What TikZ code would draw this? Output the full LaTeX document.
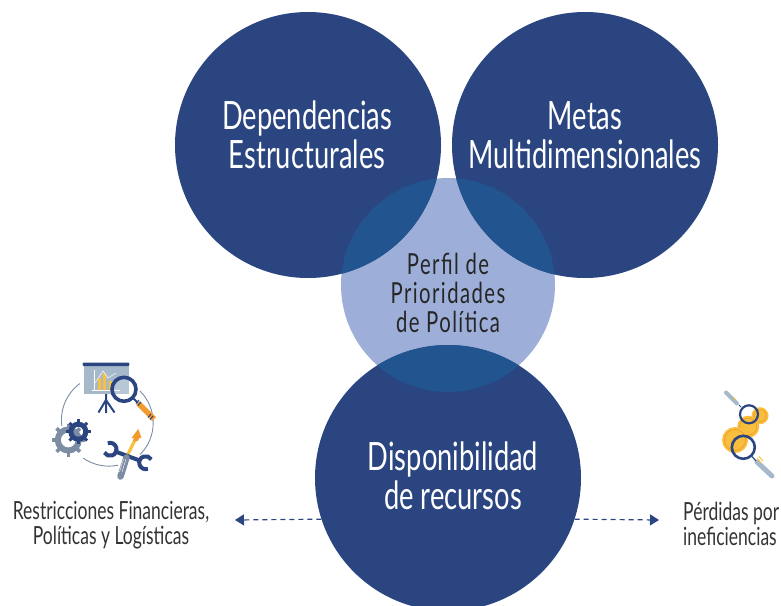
\documentclass[tikz,border=0pt]{standalone}
\usepackage{fontspec}
\setmainfont[FakeStretch=0.70]{Lato}
\newfontfamily\spaced[FakeStretch=0.70,LetterSpace=5]{Lato}
\usetikzlibrary{arrows.meta}
\definecolor{navy}{HTML}{2B4580}
\definecolor{lap}{HTML}{22558F}
\definecolor{lite}{HTML}{9DAFD9}
\definecolor{slate}{HTML}{7C8CA3}
\definecolor{board}{HTML}{A6B9CB}
\definecolor{amber}{HTML}{F9C03C}
\definecolor{coin}{HTML}{F8BE3E}
\definecolor{coinb}{HTML}{F19F2B}
\definecolor{orng}{HTML}{F39A2D}
\definecolor{txt}{HTML}{333333}
\tikzset{
  bigc/.style={circle,fill=navy,inner sep=0pt,minimum size=266pt},
  midc/.style={circle,fill=lite,inner sep=0pt,minimum size=214pt},
  bigt/.style={text=white,align=center,font=\fontsize{39}{39}\selectfont,inner sep=0pt},
  midt/.style={text=black!85,align=center,font=\spaced\fontsize{29}{29}\selectfont,inner sep=0pt},
  smallt/.style={text=txt,font=\fontsize{25}{25}\selectfont,inner sep=0pt},
  dashline/.style={navy,line width=1.2pt,dash pattern=on 5pt off 4pt,-{Triangle[length=9pt,width=11pt]}},
  ring/.style={slate,line width=0.9pt},
}
\newcommand{\gearshape}[6]{% x y r hole tooth colour
  \foreach \a in {0,45,...,315}{
    \fill[#6,rotate around={\a:(#1,#2)}] (#1-#5*0.6,#2-#3-#5) rectangle (#1+#5*0.6,#2-#3+1);
  }
  \draw[#6,line width=#3*1pt-#4*1pt] (#1,#2) circle ({(#3+#4)/2});
}
\begin{document}
\begin{tikzpicture}[x=1pt,y=-1pt]
\useasboundingbox (0,0) rectangle (781,605);
\clip (0,0) rectangle (781,605);
% circles
\node[midc] (mid) at (448,285) {};
\node[bigc] (tl) at (308,145) {};
\node[bigc] (tr) at (585,145) {};
\node[bigc] (bot) at (448,478) {};
\begin{scope}
  \clip (448,285) circle (107);
  \fill[lap] (308,145) circle (133);
  \fill[lap] (585,145) circle (133);
  \fill[lap] (448,478) circle (133);
\end{scope}
% texts
\node[bigt] (t1) at (307,135) {Dependencias\\Estructurales};
\node[bigt] (t2) at (585,135) {Metas\\Multidimensionales};
\node[midt] (t3) at (448,292.5) {Perfil de\\Prioridades\\de Política};
\node[bigt] (t4) at (453,476) {Disponibilidad\\de recursos};
\node[smallt,align=center] (t5) at (111,525.5) {Restricciones Financieras,\\Políticas y Logísticas};
\node[smallt,align=left,anchor=west] (t6) at (683,524) {Pérdidas por\\ineficiencias};
% connectors
\coordinate (la) at (235,520);
\coordinate (ra) at (659,520);
\draw[dashline] (bot.198.4) -- (la);
\draw[dashline] (bot.-18.4) -- (ra);
% left icon: ring arcs
\draw[ring] (80,383.5) arc[start angle=234,end angle=172,radius=45] ;
\draw[ring] (140,391) arc[start angle=-45,end angle=45,radius=45];
\draw[ring] (83,458) arc[start angle=125,end angle=78,radius=45];
% board
\fill[board] (84.3,365) rectangle (129,394);
\fill[navy,rounded corners=1pt] (82.7,362.5) rectangle (129.3,366);
\draw[white,line width=0.6pt] (94,370) -- (94,391) (92,390.5) -- (120,390.5);
\fill[amber] (98,378) rectangle (101,390) (103,373) rectangle (106,390) (109,381) rectangle (112,390);
\draw[white,line width=0.5pt] (95,383) -- (103,371) -- (108,378) -- (116,373);
\draw[navy,line width=2pt] (106,394) -- (106,413) (106,400) -- (98.5,412.5) (106,400) -- (114.5,412.5);
% magnifier
\draw[navy,line width=2pt] (132,397) -- (138,403);
\draw[orng,line width=5.5pt] (138,403) -- (154,419);
\draw[navy,line width=1pt] (139,400) -- (136,403.5) (141,402) -- (138,405.5) (151,414) -- (148,417.5) (153,416) -- (150,419.5);
\fill[white,opacity=0.2] (124,389.3) circle (11);
\draw[navy,line width=3.6pt] (124,389.3) circle (12);
% gears
\gearshape{68.3}{440}{13.5}{7.5}{3}{slate}
\gearshape{78.3}{431.7}{10}{5}{2.5}{navy}
% tools
\draw[amber,line width=3.2pt] (126.7,456.7) -- (136,438);
\fill[orng] (138.3,429) -- (131.5,438) -- (134,438) -- (133,441) -- (138,441) -- (139,438) -- (141.5,438) -- cycle;
\draw[navy,line width=4pt] (114,451) -- (141,461);
\draw[navy,line width=4pt] (110,449.3) ++(250:6.5) arc[start angle=250,end angle=510,radius=6.5];
\draw[navy,line width=4pt] (145.7,462.7) ++(70:6.5) arc[start angle=70,end angle=330,radius=6.5];
\draw[slate,line width=6.5pt,line cap=round] (120.5,476.5) -- (126.5,457.5);
\draw[white,line width=0.4pt] (122,472) -- (126,459) (119.5,472) -- (123.5,459);
% right icon
\draw[board,line width=4pt,line cap=round] (726,392.5) -- (737,403.5);
\draw[amber,line width=1pt] (733,397) -- (736,400);
\draw[navy,line width=1pt] (739,405) -- (741,407);
\draw[board,line width=5pt,line cap=round] (757,462) -- (772,476);
\draw[amber,line width=1pt] (757,458) -- (761,463) (759,456.5) -- (763,461);
\draw[navy,line width=1.2pt] (752,456.5) -- (756,461);
\foreach \x/\y/\r in {760/415.7/8.5,748.3/426.7/11,735/440/13}{
  \fill[coin] (\x,\y) circle (\r);
  \draw[coinb,line width=0.8pt] (\x,\y) circle (\r-2.5);
}
\draw[navy,line width=2.2pt] (749,414.3) circle (9);
\draw[navy,line width=2.6pt] (743.3,447.3) circle (11.5);
\end{tikzpicture}
\end{document}
